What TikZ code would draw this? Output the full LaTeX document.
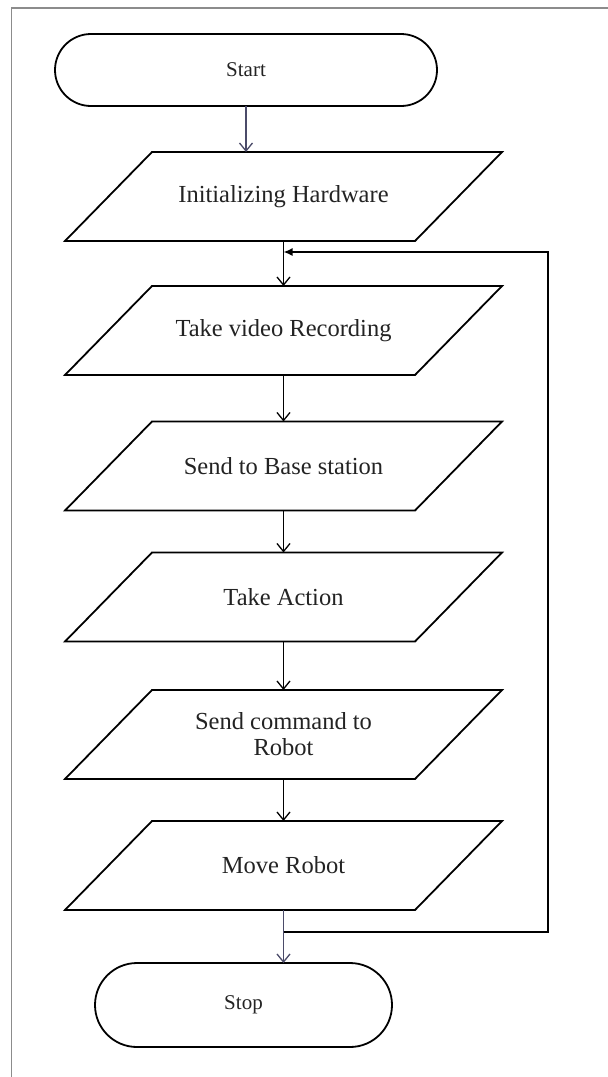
\documentclass[tikz,border=0pt]{standalone}
\usepackage{fontspec}
\setmainfont{Liberation Serif}
\usetikzlibrary{arrows.meta,calc}

\definecolor{framegray}{RGB}{140,140,140}
\definecolor{textgray}{RGB}{35,35,35}
\definecolor{flowblue}{RGB}{75,75,105}

\tikzset{
  term/.style={draw,rectangle,rounded corners=36pt,line width=1.8pt,
    minimum width=382pt,minimum height=72pt,inner sep=0pt,outer sep=0pt,
    text=textgray,font=\fontsize{21}{24}\selectfont},
  io/.style={rectangle,minimum width=350pt,minimum height=89pt,
    inner sep=0pt,outer sep=0pt,align=center,
    text=textgray,font=\fontsize{24.5}{26}\selectfont},
  ioline/.style={line width=1.8pt,line join=miter},
  flow/.style={->,line width=1.3pt},
  loopline/.style={line width=1.6pt}
}

\begin{document}
\begin{tikzpicture}[x=1pt,y=-1pt,>={Straight Barb[length=8pt,width=13pt,line width=1.3pt]}]

\useasboundingbox (0,0) rectangle (608,1077);
\begin{scope}
\clip (0,0) rectangle (608,1077);
\draw[framegray,line width=1.6pt] (11.5,8) rectangle (640,1110);
\end{scope}

% start and stop
\node[term] (start) at (246,70) {Start};
\node[term,minimum width=297pt,minimum height=84pt,rounded corners=42pt] (stop) at (243.5,1005) {Stop};

% the steps
\node[io] (init)  at (283.5,196.5) {Initializing Hardware};
\node[io] (video) at (283.5,330.5) {Take video Recording};
\node[io] (send)  at (283.5,466)   {Send to Base station};
\node[io] (act)   at (283.5,597)   {Take Action};
\node[io] (cmd)   at (283.5,734.5) {Send command to\\Robot};
\node[io] (move)  at (283.5,865.5) {Move Robot};

% slanted boxes round the steps
\foreach \n in {init,video,send,act,cmd,move}
  \draw[ioline] ($(\n.north west)+(43.5,0)$) -- ($(\n.north east)+(43.5,0)$)
    -- ($(\n.south east)+(-43.5,0)$) -- ($(\n.south west)+(-43.5,0)$) -- cycle;

\draw[flow,flowblue] (start.south) -- (start.south |- init.north);
\draw[flow] (init.south) -- (video.north);
\draw[flow] (video.south) -- (send.north);
\draw[flow] (send.south) -- (act.north);
\draw[flow] (act.south) -- (cmd.north);
\draw[flow] (cmd.south) -- (move.north);
\draw[flow,flowblue] (move.south) -- (move.south |- stop.north);

% loop back
\coordinate (split) at (283.5,932);
\coordinate (loopR) at (548,932);
\coordinate (loopT) at (548,252);
\draw[loopline,-{Latex[length=9pt,width=8pt]}] (split) -- (loopR) -- (loopT) -- (loopT -| init.south);

\end{tikzpicture}
\end{document}
